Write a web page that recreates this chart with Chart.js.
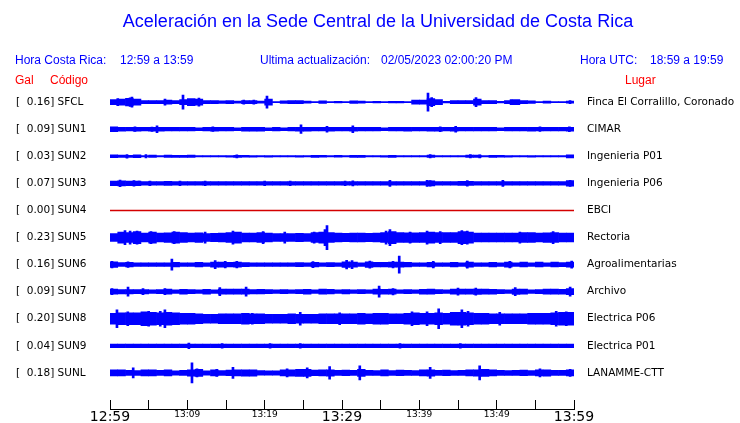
<!DOCTYPE html>
<html><head><meta charset="utf-8">
<script src="https://cdn.jsdelivr.net/npm/chart.js@4/dist/chart.umd.min.js"></script>
<style>html,body{margin:0;padding:0;background:#fff;}canvas{display:block}</style>
</head><body>
<canvas id="c" width="740" height="423"></canvas>
<script>
// ---------------- DATA ----------------
const chartTitle = 'Aceleración en la Sede Central de la Universidad de Costa Rica';
const localTimeRange = '12:59 a 13:59';
const utcTimeRange = '18:59 a 19:59';
const lastUpdate = '02/05/2023 02:00:20 PM';
const stationCodes = ['SFCL','SUN1','SUN2','SUN3','SUN4','SUN5','SUN6','SUN7','SUN8','SUN9','SUNL'];
const peakGal = [0.16,0.09,0.03,0.07,0.00,0.23,0.16,0.09,0.20,0.04,0.18];
const places = ['Finca El Corralillo, Coronado','CIMAR','Ingenieria P01','Ingenieria P06','EBCI','Rectoria','Agroalimentarias','Archivo','Electrica P06','Electrica P01','LANAMME-CTT'];
const timeLabels = ['12:59','13:09','13:19','13:29','13:39','13:49','13:59'];
const majorTimeLabels = ['12:59','13:29','13:59'];

// envelope (half amplitude, counts) per minute of the hour window
const envSFCL = [2.5,3.0,3.8,3.0,1.5,1.5,1.5,2.0,1.5,2.5, 3.5,3.0,1.5,1.5,1.2,1.5,1.0,1.5,1.5,1.0, 3.0,0.6,1.2,1.5,1.5,1.0,0.6,1.3,0.6,0.8, 0.6,1.2,1.0,0.6,0.8,0.6,0.8,0.8,0.6,2.0, 2.0,3.5,2.5,0.8,1.5,1.5,1.5,3.0,1.5,1.5, 0.8,1.5,2.5,1.5,1.2,0.6,1.0,0.6,0.6,1.0];
const envSUN1 = [2.4,1.9,1.8,2.0,1.8,1.9,2.0,1.8,1.8,1.8, 1.8,1.4,1.8,1.9,1.8,1.8,1.4,1.9,2.0,1.9, 1.4,1.8,1.4,1.8,1.9,2.0,1.8,1.8,1.9,1.8, 1.8,2.0,1.8,1.8,1.8,1.4,1.8,1.8,1.9,1.8, 1.8,1.9,2.0,1.8,1.9,1.8,1.8,1.8,1.8,1.8, 1.5,1.8,1.8,1.8,1.9,1.8,1.8,1.8,1.8,1.9];
const envSUN2 = [1.4,1.2,1.0,1.4,0.7,1.2,0.6,1.2,1.0,1.0, 1.1,0.6,0.7,0.6,0.6,0.8,1.0,0.9,0.8,0.6, 0.8,0.6,0.7,0.6,0.8,0.6,1.0,0.9,0.7,0.9, 0.6,1.0,1.0,0.7,0.7,0.8,1.0,0.7,0.7,0.6, 0.6,1.2,0.7,0.6,0.6,0.6,1.2,1.2,0.6,1.0, 0.9,0.8,0.6,0.7,0.8,0.6,0.7,0.6,0.6,1.5];
const envSUN3 = [2.3,2.6,2.3,2.3,1.9,1.8,1.9,2.0,1.8,1.9, 1.8,1.9,1.8,1.9,1.8,1.7,1.8,1.7,1.8,1.7, 1.7,1.8,1.7,1.8,1.7,1.9,1.7,1.8,1.7,1.7, 1.7,1.9,1.7,1.7,1.7,1.8,1.9,1.7,1.7,1.8, 1.8,2.5,1.9,1.7,1.8,2.0,2.1,1.9,1.9,1.8, 1.8,1.7,1.8,1.7,1.7,1.8,1.7,1.7,1.9,2.7];
const envSUN4 = [0,0,0,0,0,0,0,0,0,0, 0,0,0,0,0,0,0,0,0,0, 0,0,0,0,0,0,0,0,0,0, 0,0,0,0,0,0,0,0,0,0, 0,0,0,0,0,0,0,0,0,0, 0,0,0,0,0,0,0,0,0,0, 0];
const envSUN5 = [4.0,5.5,5.0,6.0,4.5,5.5,4.5,4.8,5.5,5.0, 4.5,4.8,4.0,4.2,4.5,5.0,5.5,4.5,4.5,5.0, 4.5,4.0,4.0,4.0,4.2,4.0,5.0,5.5,5.0,4.5, 4.2,4.5,4.5,4.2,4.5,5.0,6.0,5.0,4.8,4.8, 5.0,5.5,5.0,5.0,5.0,6.0,5.5,4.5,4.5,4.5, 4.5,4.5,4.5,5.0,5.0,4.5,4.8,5.0,4.5,4.5];
const envSUN6 = [2.8,1.9,2.2,1.8,1.8,1.8,1.8,1.8,2.2,1.8, 1.8,2.2,1.8,2.5,2.6,2.2,2.5,2.1,1.8,1.8, 1.8,1.8,1.8,1.8,2.0,1.8,2.3,1.8,2.1,1.8, 2.8,2.6,1.8,2.8,2.2,2.3,2.6,2.6,2.2,1.8, 1.8,2.3,1.8,1.8,2.3,1.8,2.5,1.8,1.8,2.2, 1.8,2.5,1.8,2.4,1.8,2.4,1.8,2.4,2.0,2.6];
const envSUN7 = [2.6,2.2,2.2,2.0,2.2,1.8,2.1,2.5,1.8,2.4, 2.0,1.8,2.4,1.8,2.5,2.6,2.6,2.5,2.2,2.3, 2.0,1.8,2.1,1.8,2.1,2.4,1.8,2.6,2.3,1.8, 2.2,1.8,2.1,1.8,2.6,2.4,2.5,1.8,2.1,1.8, 2.4,2.5,2.1,1.8,2.6,2.5,2.6,2.7,2.5,2.4, 2.1,1.8,2.7,2.6,1.8,2.1,2.5,2.6,2.4,3.0];
const envSUN8 = [5.5,6.0,6.0,6.0,7.0,6.5,6.0,6.5,6.0,5.5, 5.5,5.0,4.5,4.5,5.0,5.0,5.0,5.5,5.0,4.8, 4.5,4.5,4.5,5.0,4.5,4.5,4.5,5.0,5.0,5.0, 5.0,5.0,5.5,5.0,5.5,5.5,5.0,5.0,5.5,6.0, 5.5,5.5,6.0,5.5,6.5,6.5,6.0,5.5,5.5,5.0, 5.0,5.0,5.0,5.0,5.5,5.5,5.5,6.0,6.5,6.5];
const envSUN9 = [1.7,1.7,1.7,1.7,1.7,1.7,1.7,1.7,1.7,1.8, 1.7,1.7,1.7,1.8,1.7,1.7,1.7,1.7,1.7,1.7, 1.8,1.7,1.7,1.7,1.8,1.7,1.7,1.7,1.7,1.7, 1.7,1.7,1.7,1.7,1.7,1.7,1.7,1.8,1.7,1.7, 1.7,1.7,1.7,1.7,1.7,1.8,1.7,1.7,1.7,1.7, 1.7,1.7,1.7,1.7,1.7,1.7,1.7,1.7,1.7,1.7];
const envSUNL = [3.0,3.0,2.5,2.4,3.0,3.0,2.6,3.0,2.2,2.5, 3.2,3.5,2.2,3.0,2.4,2.8,3.0,3.2,3.2,2.3, 2.2,2.2,3.0,3.2,3.5,3.5,2.8,3.0,3.2,2.6, 2.8,2.6,3.5,2.5,2.4,3.0,2.4,2.8,2.6,2.4, 3.0,3.2,2.5,2.8,2.4,2.5,3.0,3.2,3.5,3.0, 2.6,2.4,2.5,2.8,2.4,3.0,3.2,2.6,2.5,3.0];

// isolated peaks: [minute, half amplitude]
const spkSFCL = [[1.0,3.5],[2.6,4.2],[2.84,5.0],[7.11,3.0],[9.44,7.0],[11.5,4.0],[17.3,2.0],[18.6,2.0],[20.3,6.0],[41.12,9.0],[41.6,4.5],[47.33,4.5],[51.86,2.5],[59.49,1.5]];
const spkSUN1 = [[3.23,2.3],[5.43,2.2],[6.08,3.5],[13.3,2.3],[24.7,4.3],[28.06,3.0],[31.4,3.5],[42.7,2.5],[44.7,3.0],[55.6,2.3],[59.4,2.4]];
const spkSUN2 = [[2.2,1.8],[4.65,1.6],[16.4,1.5],[41.4,1.6],[46.6,1.6],[47.8,1.5]];
const spkSUN3 = [[1.3,3.3],[3.1,2.8],[3.75,2.4],[5.17,2.4],[9.05,2.4],[12.3,2.3],[20.0,2.4],[23.3,2.2],[30.4,2.2],[31.4,2.5],[36.2,3.0],[41.0,3.0],[41.4,2.8],[46.2,2.7],[50.8,3.0],[59.5,3.0]];
const spkSUN4 = [];
const spkSUN5 = [[1.94,7.0],[2.6,6.5],[3.5,6.5],[5.3,6.0],[8.3,6.0],[12.3,5.5],[15.9,6.5],[19.8,6.0],[22.6,5.5],[26.4,5.5],[27.8,8.0],[28.06,12.0],[35.7,6.5],[36.2,8.0],[38.8,5.5],[41.0,6.5],[42.7,6.0],[45.5,7.0],[46.2,6.5],[53.0,5.5],[57.3,6.0]];
const spkSUN6 = [[0.26,3.2],[2.33,2.8],[8.0,5.5],[13.6,4.0],[14.9,3.2],[16.4,3.2],[26.25,3.0],[30.6,4.2],[31.3,4.0],[33.6,3.6],[36.6,3.2],[37.4,8.5],[41.8,3.2],[46.2,3.5],[51.7,3.2],[59.7,3.5]];
const spkSUN7 = [[0.26,3.0],[2.33,4.5],[4.27,3.0],[7.1,3.0],[14.2,4.0],[17.6,4.5],[34.8,5.5],[36.6,3.2],[45.0,3.5],[47.3,3.5],[52.4,4.0],[59.5,4.5]];
const spkSUN8 = [[0.9,9.0],[2.3,7.0],[5.0,7.5],[6.5,7.5],[7.1,9.0],[18.4,5.5],[24.6,6.5],[29.7,6.0],[39.05,7.0],[41.0,7.0],[42.5,10.0],[45.5,9.0],[46.3,7.5],[50.4,6.5],[57.7,7.5],[59.0,7.0]];
const spkSUN9 = [[10.2,2.8],[14.5,2.2],[20.7,2.2],[24.6,2.2],[37.5,2.3],[45.3,2.2]];
const spkSUNL = [[3.0,5.0],[10.6,10.0],[11.25,4.0],[13.8,3.5],[15.9,5.5],[22.9,4.0],[25.5,5.0],[28.4,6.3],[32.3,7.0],[41.4,5.5],[47.8,7.0],[55.6,4.0],[59.5,3.5]];

// ---------------- BUILD ----------------
const envelopes = [envSFCL,envSUN1,envSUN2,envSUN3,envSUN4,envSUN5,envSUN6,envSUN7,envSUN8,envSUN9,envSUNL];
const peaks = [spkSFCL,spkSUN1,spkSUN2,spkSUN3,spkSUN4,spkSUN5,spkSUN6,spkSUN7,spkSUN8,spkSUN9,spkSUNL];
const N = stationCodes.length;
const COUNTS_PER_TRACE = 27;
const BLUE = '#0000ff';
const center = i => N - i;

const datasets = [];
stationCodes.forEach((code, i) => {
  const c = center(i);
  const env = envelopes[i];
  if (peakGal[i] === 0) {
    datasets.push({type:'line', xAxisID:'x', yAxisID:'y', borderColor:'#d40000', borderWidth:1.5,
      pointRadius:0, tension:0,
      data: env.map((a, m) => ({x: m, y: c + a / COUNTS_PER_TRACE}))});
    return;
  }
  datasets.push({type:'bar', xAxisID:'x', yAxisID:'y', backgroundColor:BLUE, borderWidth:0,
    barPercentage:1, categoryPercentage:1, grouped:false,
    data: env.map((a, m) => ({x: m + 0.5, y: [c - a / COUNTS_PER_TRACE, c + a / COUNTS_PER_TRACE]}))});
  datasets.push({type:'bar', xAxisID:'x2', yAxisID:'y', backgroundColor:BLUE, borderWidth:0,
    barThickness:2, grouped:false,
    data: peaks[i].map(([m, a]) => ({x: m, y: [c - a / COUNTS_PER_TRACE, c + a / COUNTS_PER_TRACE]}))});
});

const leftLabel = i => '[' + peakGal[i].toFixed(2).padStart(6, ' ') + '] ' + stationCodes[i];
const timeLabelAt = v => (Math.round(v) % 10 === 0) ? timeLabels[Math.round(v) / 10] : '';

const headerPlugin = {
  id: 'header',
  afterDraw(chart) {
    const ctx = chart.ctx;
    ctx.save();
    ctx.textBaseline = 'middle';
    ctx.textAlign = 'left';
    ctx.font = '12px "Liberation Sans", Arial, sans-serif';
    ctx.fillStyle = BLUE;
    ctx.fillText('Hora Costa Rica:', 15, 61);
    ctx.fillText(localTimeRange, 120, 61);
    ctx.fillText('Ultima actualización:', 260, 61);
    ctx.fillText(lastUpdate, 381, 61);
    ctx.fillText('Hora UTC:', 580, 61);
    ctx.fillText(utcTimeRange, 650, 61);
    ctx.fillStyle = '#ff0000';
    ctx.fillText('Gal', 15, 81);
    ctx.fillText('Código', 50, 81);
    ctx.fillText('Lugar', 625, 81);
    // time axis base line
    const xs = chart.scales.x;
    const y = Math.round(xs.top + xs.options.grid.tickLength) + 0.5;
    ctx.strokeStyle = '#000';
    ctx.lineWidth = 1;
    ctx.beginPath();
    ctx.moveTo(Math.round(xs.left), y);
    ctx.lineTo(Math.round(xs.right) + 1, y);
    ctx.stroke();
    ctx.restore();
  }
};

Chart.defaults.font.family = '"DejaVu Sans", sans-serif';
new Chart(document.getElementById('c'), {
  type: 'bar',
  data: { datasets },
  plugins: [headerPlugin],
  options: {
    responsive: false,
    animation: false,
    devicePixelRatio: 1,
    layout: { padding: { left: 16 } },
    plugins: {
      legend: { display: false },
      tooltip: { enabled: false },
      title: { display: true, text: chartTitle, color: BLUE,
        font: { family: '"Liberation Sans", Arial, sans-serif', size: 18, weight: 'normal' },
        padding: { top: 11, bottom: 56 } }
    },
    scales: {
      x: { type: 'linear', min: 0, max: 60, offset: false, position: 'bottom',
        grid: { display: true, drawOnChartArea: false, drawTicks: true, tickLength: 9, color: '#000', tickColor: '#000', offset: false },
        border: { display: false },
        ticks: { stepSize: 5, autoSkip: false, maxRotation: 0, padding: 0, color: '#000',
          callback: v => timeLabelAt(v),
          font: ctx => ({ family: '"DejaVu Sans", sans-serif',
            size: majorTimeLabels.includes(timeLabelAt(ctx.tick ? ctx.tick.value : 0)) ? 14 : 9 }) },
        afterFit: s => { s.height = 23; } },
      x2: { type: 'linear', min: 0, max: 60, offset: false, display: false },
      y: { type: 'linear', position: 'left', min: 0, max: N + 0.5,
        grid: { display: false, drawTicks: false }, border: { display: false },
        afterBuildTicks: s => { s.ticks = stationCodes.map((_, i) => ({ value: center(i) })); },
        ticks: { crossAlign: 'far', padding: 0, color: '#000', autoSkip: false,
          font: { family: '"DejaVu Sans", sans-serif', size: 10.5 },
          callback: v => leftLabel(N - Math.round(v)) },
        afterFit: s => { s.width = 94; } },
      yR: { type: 'linear', position: 'right', min: 0, max: N + 0.5,
        grid: { display: false, drawTicks: false }, border: { display: false },
        afterBuildTicks: s => { s.ticks = stationCodes.map((_, i) => ({ value: center(i) })); },
        ticks: { crossAlign: 'near', padding: 13, color: '#000', autoSkip: false,
          font: { family: '"DejaVu Sans", sans-serif', size: 10.5 },
          callback: v => places[N - Math.round(v)] },
        afterFit: s => { s.width = 166; } }
    }
  }
});
</script>
</body></html>
